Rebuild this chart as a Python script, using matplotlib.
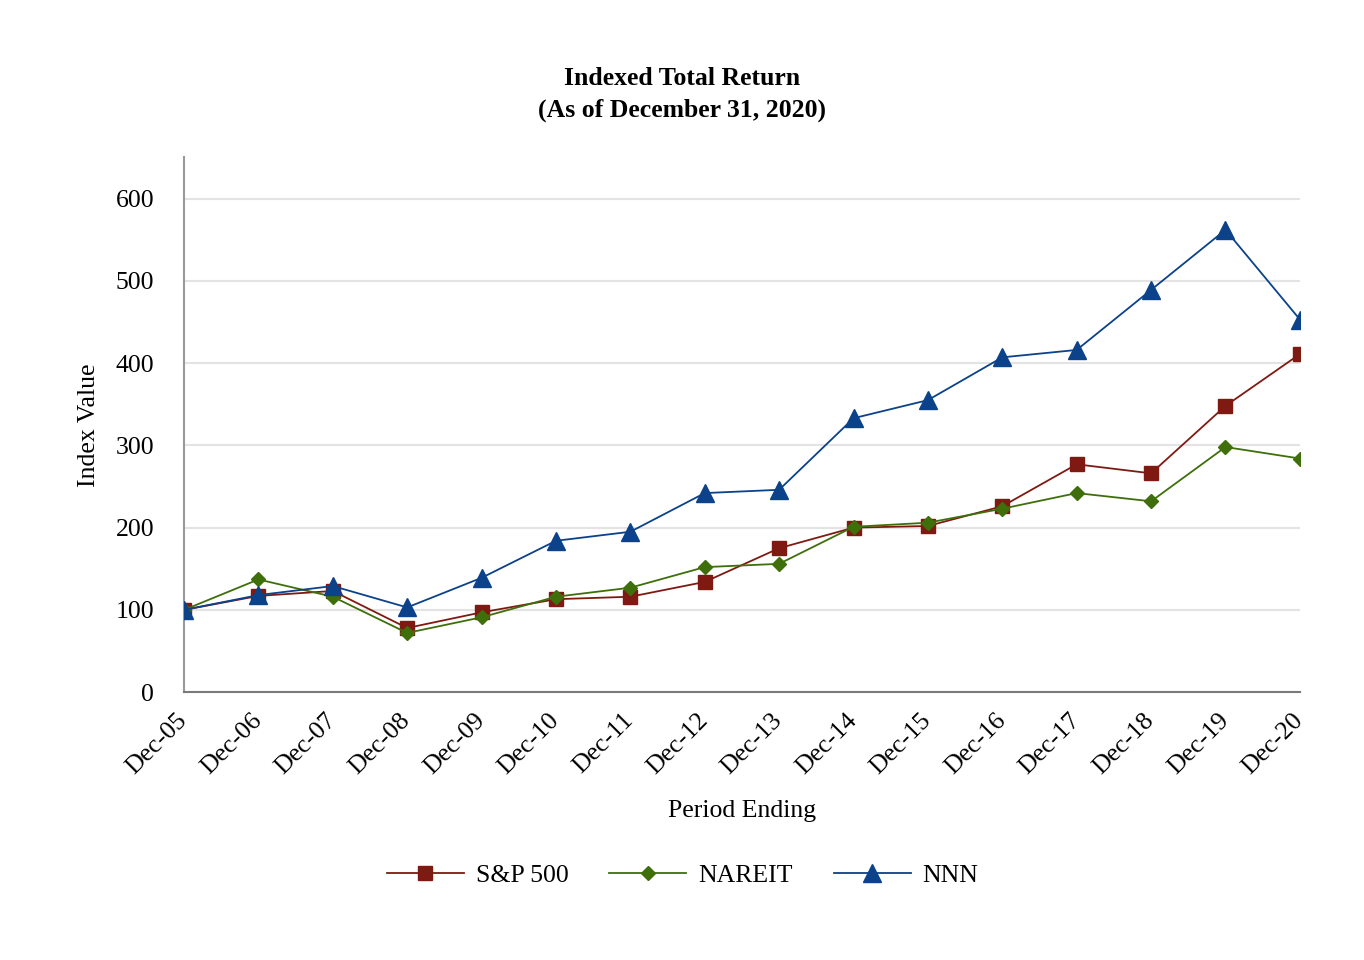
import matplotlib
matplotlib.use('Agg')
import matplotlib.pyplot as plt

periods = ['Dec-05', 'Dec-06', 'Dec-07', 'Dec-08', 'Dec-09', 'Dec-10', 'Dec-11', 'Dec-12',
           'Dec-13', 'Dec-14', 'Dec-15', 'Dec-16', 'Dec-17', 'Dec-18', 'Dec-19', 'Dec-20']
sp500 = [100, 117, 123, 78, 97, 113, 116, 134, 175, 200, 202, 226, 277, 266, 348, 411]
nareit = [100, 137, 116, 72, 91, 116, 127, 152, 156, 201, 206, 223, 242, 232, 298, 284]
nnn = [100, 118, 129, 103, 139, 184, 195, 242, 246, 333, 355, 407, 416, 489, 562, 453]

plt.rcParams['font.family'] = ['Liberation Serif', 'DejaVu Serif']
fs = 18.5

fig = plt.figure(figsize=(13.64, 9.6), dpi=100)
ax = fig.add_axes([0.1349, 0.279, 0.8181, 0.557])

x = range(len(periods))
ax.plot(x, sp500, color='#7f1a12', marker='s', markersize=10.5, linewidth=1.3, label='S&P 500', zorder=3)
ax.plot(x, nareit, color='#3f6f0a', marker='D', markersize=7.5, linewidth=1.3, label='NAREIT', zorder=3)
ax.plot(x, nnn, color='#0b428a', marker='^', markersize=13.5, linewidth=1.3, label='NNN', zorder=4)

ax.set_xlim(0, len(periods) - 1)
ax.set_ylim(0, 650)
ax.set_yticks(range(0, 700, 100))
ax.set_xticks(list(x))
ax.set_xticklabels(periods, rotation=45, ha='right', va='center', rotation_mode='anchor')
ax.tick_params(axis='both', length=0, labelsize=fs)
ax.tick_params(axis='y', pad=21.5)
ax.tick_params(axis='x', pad=18)

ax.grid(axis='y', color='#e3e3e3', linewidth=1.5)
ax.set_axisbelow(True)
for s in ['top', 'right']:
    ax.spines[s].set_visible(False)
ax.spines['left'].set_color('#9a9a9a')
ax.spines['bottom'].set_color('#7a7a7a')
ax.spines['left'].set_linewidth(1.5)
ax.spines['bottom'].set_linewidth(1.5)

ax.set_ylabel('Index Value', fontsize=fs, labelpad=11)
ax.set_xlabel('Period Ending', fontsize=fs, labelpad=15.5)

fig.text(0.5, 0.918, 'Indexed Total Return', ha='center', va='center', fontsize=fs, fontweight='bold')
fig.text(0.5, 0.885, '(As of December 31, 2020)', ha='center', va='center', fontsize=fs, fontweight='bold')

fig.legend(loc='center', bbox_to_anchor=(0.5004, 0.0885), ncol=3, frameon=False, fontsize=fs,
           handlelength=3.0, columnspacing=1.6, handletextpad=0.45)

fig.savefig('out.png', dpi=100)
